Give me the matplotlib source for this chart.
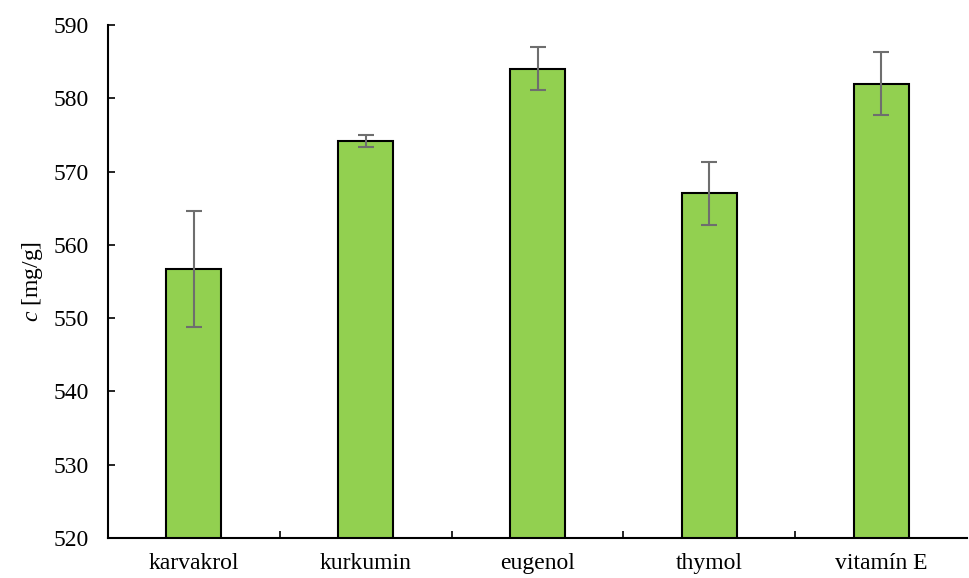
import matplotlib
matplotlib.use("Agg")
import matplotlib.pyplot as plt
import numpy as np

plt.rcParams['font.family'] = ['Liberation Serif', 'DejaVu Serif']
plt.rcParams['mathtext.fontset'] = 'custom'
plt.rcParams['mathtext.rm'] = 'Liberation Serif'
plt.rcParams['mathtext.it'] = 'Liberation Serif:italic'

# koncentrace a směrodatné odchylky
latky = ["karvakrol", "kurkumin", "eugenol", "thymol", "vitamín E"]
hodnoty = [556.7, 574.2, 584.0, 567.0, 582.0]
odchylky = [7.9, 0.8, 2.95, 4.3, 4.3]

fig = plt.figure(figsize=(9.69, 5.78), dpi=100)
ax = fig.add_axes([0.1115, 0.069, 0.8865, 0.888])

x = np.arange(len(latky))
ax.bar(x, hodnoty, width=0.32, color='#92D050', edgecolor='black', linewidth=1.5, zorder=2)
ax.errorbar(x, hodnoty, yerr=odchylky, fmt='none', ecolor='#6e6e6e',
            elinewidth=1.5, capsize=5.5, capthick=1.5, zorder=3)

ax.set_ylim(520, 590)
ax.set_yticks(np.arange(520, 591, 10))
ax.set_xlim(-0.5, len(latky) - 0.5)
ax.set_xticks(x)
ax.set_xticklabels(latky)
ax.set_xticks(np.arange(0.5, len(latky) - 0.5, 1), minor=True)
ax.tick_params(axis='x', which='major', length=0, pad=11, labelsize=17)
ax.tick_params(axis='x', which='minor', direction='in', length=5, width=1.2)
ax.tick_params(axis='y', direction='in', length=5, width=1.2, labelsize=17, pad=14)

for s in ['top', 'right']:
    ax.spines[s].set_visible(False)
for s in ['left', 'bottom']:
    ax.spines[s].set_linewidth(1.5)

ax.set_ylabel('$c$ [mg/g]', fontsize=17, labelpad=6)

plt.savefig("out.png", dpi=100)
